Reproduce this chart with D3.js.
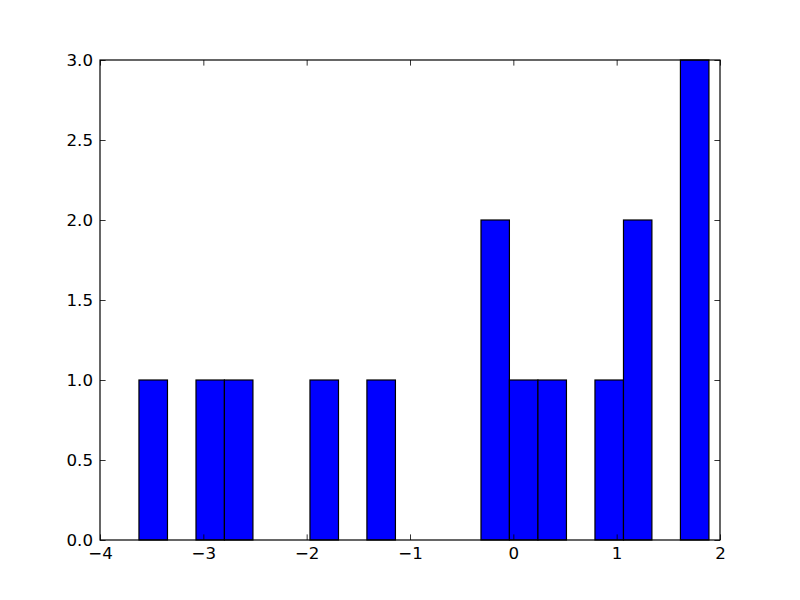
<!DOCTYPE html>
<html>
<head>
<meta charset="utf-8">
<script src="https://cdn.jsdelivr.net/npm/d3@7"></script>
<style>
  html, body { margin: 0; padding: 0; background: #fff; }
  svg text { font-family: "DejaVu Sans", sans-serif; font-size: 16.67px; fill: #000; }
</style>
</head>
<body>
<svg id="chart" width="800" height="600"></svg>
<script>
// Histogram bin edges (left edges) and counts
const binLeft = [-3.623, -3.347, -3.071, -2.796, -2.520, -2.244, -1.968, -1.692, -1.417, -1.141,
                 -0.865, -0.589, -0.313, -0.038, 0.238, 0.514, 0.790, 1.066, 1.341, 1.617];
const binRight = [-3.347, -3.071, -2.796, -2.520, -2.244, -1.968, -1.692, -1.417, -1.141, -0.865,
                  -0.589, -0.313, -0.038, 0.238, 0.514, 0.790, 1.066, 1.341, 1.617, 1.893];
const counts = [1, 0, 1, 1, 0, 0, 1, 0, 1, 0, 0, 0, 2, 1, 1, 0, 1, 2, 0, 3];
const xTicks = [-4, -3, -2, -1, 0, 1, 2];
const yTicks = [0.0, 0.5, 1.0, 1.5, 2.0, 2.5, 3.0];

const svg = d3.select("#chart");
const mL = 100, mR = 720, mT = 60, mB = 540;
const x = d3.scaleLinear().domain([-4, 2]).range([mL, mR]);
const y = d3.scaleLinear().domain([0, 3]).range([mB, mT]);

const bins = binLeft.map((l, i) => ({ x0: l, x1: binRight[i], n: counts[i] }));

svg.append("g").selectAll("rect")
  .data(bins.filter(d => d.n > 0))
  .join("rect")
  .attr("x", d => x(d.x0))
  .attr("y", d => y(d.n))
  .attr("width", d => x(d.x1) - x(d.x0))
  .attr("height", d => y(0) - y(d.n))
  .attr("fill", "#0000ff")
  .attr("stroke", "#000")
  .attr("stroke-width", 1.2);

const fmtMinus = s => s.replace("-", "\u2212");
const tickLen = 5.6;

const xb = svg.append("g").attr("transform", `translate(0,${mB})`)
  .call(d3.axisBottom(x).tickValues(xTicks).tickSize(-tickLen).tickPadding(7)
        .tickFormat(d => fmtMinus(d3.format("d")(d))));
const xt = svg.append("g").attr("transform", `translate(0,${mT})`)
  .call(d3.axisTop(x).tickValues(xTicks).tickSize(-tickLen).tickFormat(""));
const yl = svg.append("g").attr("transform", `translate(${mL},0)`)
  .call(d3.axisLeft(y).tickValues(yTicks).tickSize(-tickLen).tickPadding(7)
        .tickFormat(d3.format(".1f")));
const yr = svg.append("g").attr("transform", `translate(${mR},0)`)
  .call(d3.axisRight(y).tickValues(yTicks).tickSize(-tickLen).tickFormat(""));

[xb, xt, yl, yr].forEach(g => {
  g.select(".domain").remove();
  g.selectAll(".tick line").attr("stroke", "#000").attr("stroke-width", 0.8);
  g.selectAll("text").attr("font-family", "DejaVu Sans, sans-serif").attr("font-size", "16.67px").attr("fill", "#000");
});

svg.append("rect")
  .attr("x", mL).attr("y", mT)
  .attr("width", mR - mL).attr("height", mB - mT)
  .attr("fill", "none").attr("stroke", "#000").attr("stroke-width", 1.2);
</script>
</body>
</html>
